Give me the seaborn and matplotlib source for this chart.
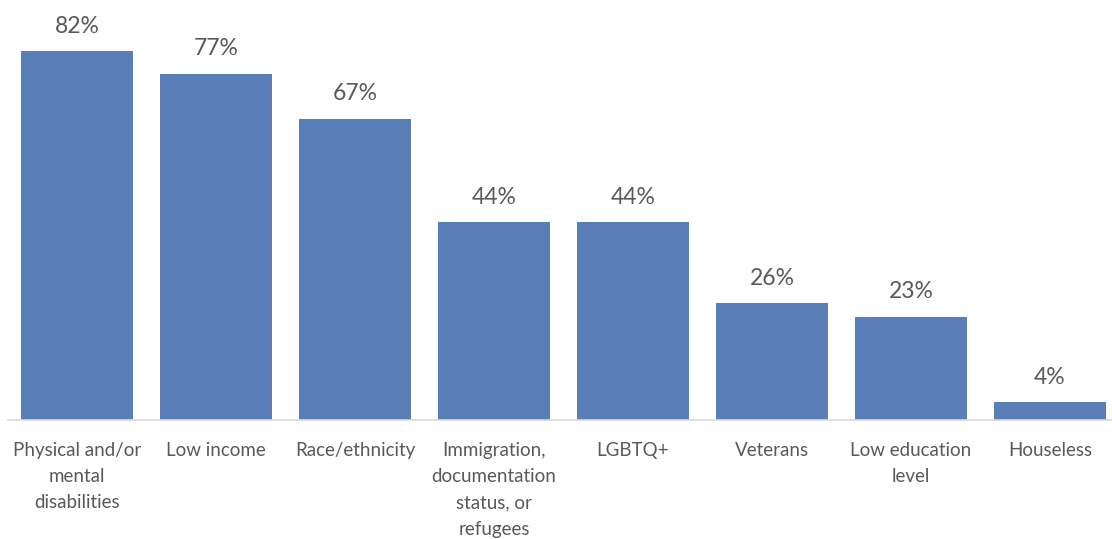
import matplotlib
matplotlib.use("Agg")
import matplotlib.pyplot as plt
import seaborn as sns
import pandas as pd

categories = [
    "Physical and/or\nmental\ndisabilities",
    "Low income",
    "Race/ethnicity",
    "Immigration,\ndocumentation\nstatus, or\nrefugees",
    "LGBTQ+",
    "Veterans",
    "Low education\nlevel",
    "Houseless",
]
values = [82, 77, 67, 44, 44, 26, 23, 4]

df = pd.DataFrame({"group": categories, "pct": values})

sns.set_theme(style="white")
plt.rcParams["font.family"] = ["Lato", "DejaVu Sans"]

fig = plt.figure(figsize=(11.12, 5.39), dpi=100)
ax = fig.add_axes([7.5 / 1112, 119 / 539, 1.0, 420 / 539])

bar_color = "#5A7FB8"
text_color = "#595959"

sns.barplot(data=df, x="group", y="pct", color=bar_color, saturation=1,
            width=0.805, edgecolor="none", ax=ax)

ax.set_xlim(-0.5, len(categories) - 0.5)
ax.set_ylim(0, 420 / 4.5)

for i, v in enumerate(values):
    ax.annotate(f"{v}%", xy=(i, v), xytext=(0, 13), textcoords="offset points",
                ha="center", va="baseline", fontsize=16.5, color=text_color)

ax.set_xlabel("")
ax.set_ylabel("")
ax.set_yticks([])
ax.tick_params(axis="x", length=0, pad=16, labelsize=13.5, colors=text_color)
for lbl in ax.get_xticklabels():
    lbl.set_linespacing(1.65)
    lbl.set_va("top")

for side in ("top", "right", "left"):
    ax.spines[side].set_visible(False)
ax.spines["bottom"].set_color("#D9D9D9")
ax.spines["bottom"].set_linewidth(1.2)

fig.savefig("out.png", dpi=100)
